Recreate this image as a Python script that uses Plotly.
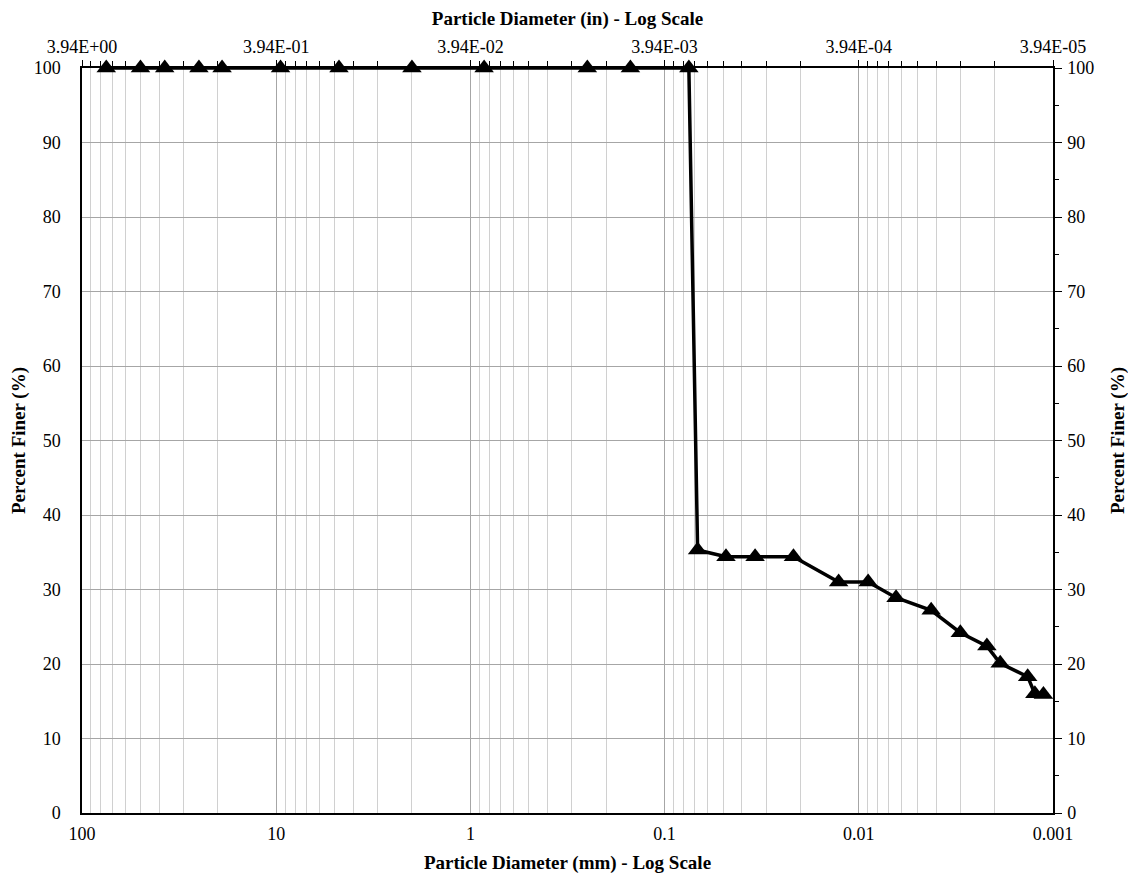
import numpy as np
import plotly.graph_objects as go

# Particle diameter (mm) and percent finer
diameter_mm = [75, 50, 37.5, 25, 19, 9.5, 4.75, 2.0, 0.85, 0.25, 0.15, 0.075,
               0.0676, 0.0483, 0.0342, 0.0217, 0.0127, 0.00895, 0.00643,
               0.00424, 0.00300, 0.00219, 0.00187, 0.00135, 0.00124, 0.00112]
percent_finer = [100, 100, 100, 100, 100, 100, 100, 100, 100, 100, 100, 100,
                 35.3, 34.4, 34.4, 34.4, 31.0, 31.0, 28.9,
                 27.2, 24.2, 22.4, 20.1, 18.3, 16.0, 15.9]

mm_tick_vals = [100, 10, 1, 0.1, 0.01, 0.001]
mm_tick_text = ["100", "10", "1", "0.1", "0.01", "0.001"]
in_tick_vals = [3.937, 0.3937, 0.03937, 0.003937, 0.0003937, 0.00003937]
in_tick_text = ["3.94E+00", "3.94E-01", "3.94E-02", "3.94E-03", "3.94E-04", "3.94E-05"]
y_ticks = list(range(0, 101, 10))

FONT = "Liberation Serif"
TICK = 18
TITLE = 19
minor_mm = [k * 10.0 ** e for e in range(-3, 2) for k in range(2, 10)]
minor_in = [k * 3.937 * 10.0 ** e for e in range(-5, 0) for k in range(2, 10)]

fig = go.Figure()
fig.add_trace(go.Scatter(
    x=diameter_mm, y=percent_finer, mode="lines+markers",
    line=dict(color="black", width=3.5),
    marker=dict(symbol="triangle-up", size=17, color="black"),
    showlegend=False, cliponaxis=False,
))
# invisible traces to activate secondary axes
fig.add_trace(go.Scatter(x=[in_tick_vals[0]], y=[0], xaxis="x2", yaxis="y",
                         mode="markers", marker=dict(opacity=0), showlegend=False,
                         hoverinfo="skip"))
fig.add_trace(go.Scatter(x=[diameter_mm[0]], y=[0], xaxis="x", yaxis="y2",
                         mode="markers", marker=dict(opacity=0), showlegend=False,
                         hoverinfo="skip"))

# page body has an 8px margin, so the figure is sized to fit the window
fig.update_layout(
    width=1128, height=870,
    margin=dict(l=74, r=83, t=60, b=65, autoexpand=False),
    paper_bgcolor="white", plot_bgcolor="white",
    font=dict(family=FONT, size=TICK, color="black"),
    xaxis=dict(
        type="log", range=[2, -3], autorange=False, automargin=False,
        tickvals=mm_tick_vals, ticktext=mm_tick_text,
        showgrid=True, gridcolor="#a6a6a6", gridwidth=1,
        minor=dict(tickvals=minor_mm, showgrid=True, gridcolor="#d0d0d0", gridwidth=1, ticks=""),
        showline=True, linecolor="black", linewidth=1.5, mirror=False,
        ticks="", ticklabelstandoff=4,
        title=dict(text="<b>Particle Diameter (mm) - Log Scale</b>", font=dict(size=TITLE), standoff=12),
        zeroline=False,
    ),
    xaxis2=dict(
        type="log", range=[np.log10(3.937), np.log10(3.937e-5)], autorange=False, automargin=False,
        overlaying="x", side="top",
        tickvals=in_tick_vals, ticktext=in_tick_text,
        ticks="outside", ticklen=6, tickcolor="black", tickwidth=1,
        minor=dict(tickvals=minor_in, ticks="outside", ticklen=5, tickcolor="black", showgrid=False),
        showgrid=False, showline=True, linecolor="black", linewidth=1.5,
        title=dict(text="<b>Particle Diameter (in) - Log Scale</b>", font=dict(size=TITLE), standoff=6),
        zeroline=False,
    ),
    yaxis=dict(
        range=[0, 100], autorange=False, tickvals=y_ticks, automargin=False,
        showgrid=True, gridcolor="#a6a6a6", gridwidth=1,
        showline=True, linecolor="black", linewidth=1.5,
        ticks="", ticklabelstandoff=16,
        title=dict(text="<b>Percent Finer (%)</b>", font=dict(size=TITLE), standoff=8),
        zeroline=False,
    ),
    yaxis2=dict(
        range=[0, 100], autorange=False, overlaying="y", side="right", automargin=False,
        tickvals=y_ticks, ticks="outside", ticklen=7, tickcolor="black",
        minor=dict(dtick=5, ticks="outside", ticklen=4, tickcolor="black", showgrid=False),
        showgrid=False, showline=True, linecolor="black", linewidth=1.5,
        ticklabelstandoff=2,
        title=dict(text="<b>Percent Finer (%)</b>", font=dict(size=TITLE), standoff=17),
        zeroline=False,
    ),
)

fig.write_html("out.html")
